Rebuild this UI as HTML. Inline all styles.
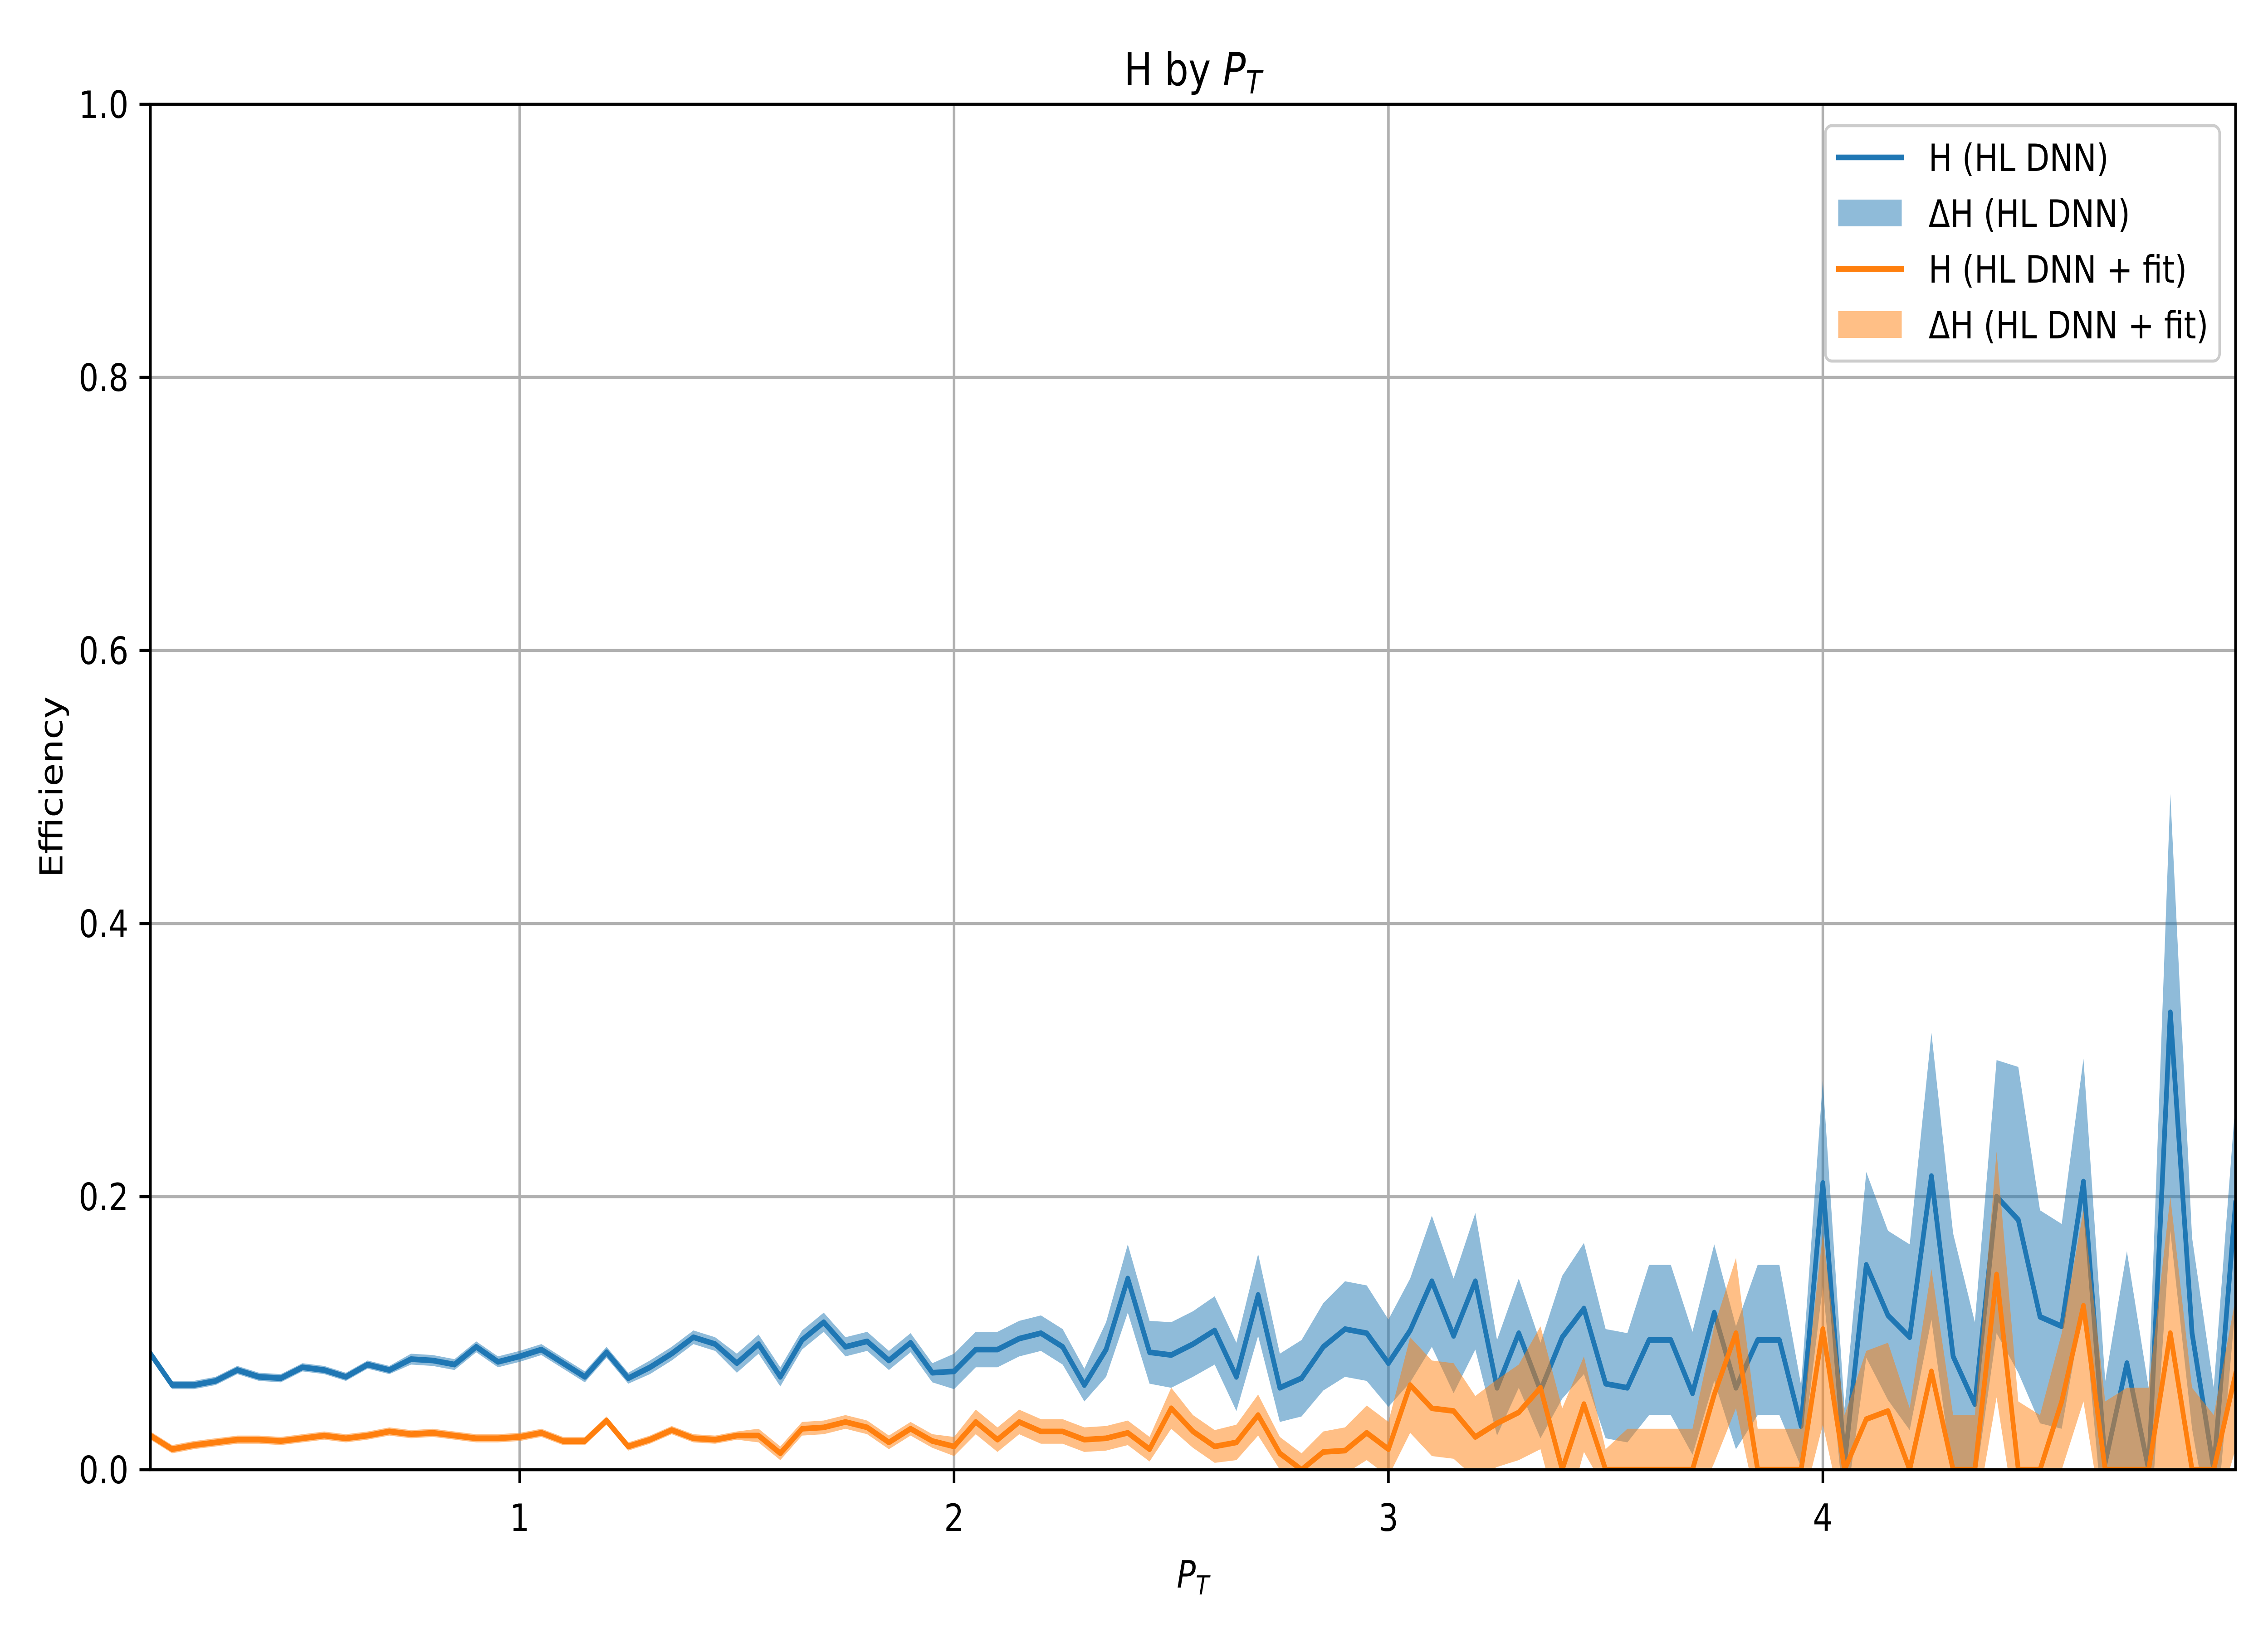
<!DOCTYPE html>
<html><head><meta charset="utf-8"><style>
html,body{margin:0;padding:0;background:#fff;width:100%;height:100%;overflow:hidden;}
svg{display:block;font-family:"DejaVu Sans","Liberation Sans",sans-serif;width:100vw;height:100vh;}
</style></head><body>
<svg id="chart" width="100%" height="100%" viewBox="0 0 6000 3600" preserveAspectRatio="none" xmlns="http://www.w3.org/2000/svg">
<rect width="6000" height="3600" fill="#fff"/>
<defs><clipPath id="plotclip"><rect x="398" y="230" width="5516" height="3010"/></clipPath></defs>
<g id="grid"></g>
<g id="series" clip-path="url(#plotclip)"></g>
<g id="axes"></g>
<text x="3156" y="188" font-size="100" text-anchor="middle">H by <tspan font-style="italic">P</tspan><tspan font-style="italic" font-size="70" dy="18">T</tspan></text>
<text x="3156" y="3500" font-size="83" text-anchor="middle"><tspan font-style="italic">P</tspan><tspan font-style="italic" font-size="58" dy="15">T</tspan></text>
<text x="0" y="0" font-size="83" text-anchor="middle" transform="translate(165,1735) rotate(-90)">Efficiency</text>
<g id="legend">
<rect x="4829" y="277" width="1043" height="519" rx="17" fill="#fff" fill-opacity="0.8" stroke="#cccccc" stroke-width="6.7"/>
<line x1="4857" y1="347" x2="5037" y2="347" stroke="#1f77b4" stroke-width="12.5"/>
<text x="5102" y="377" font-size="83">H (HL DNN)</text>
<rect x="4863" y="440" width="168" height="59" fill="#1f77b4" fill-opacity="0.5"/>
<text x="5102" y="500" font-size="83">ΔH (HL DNN)</text>
<line x1="4857" y1="593" x2="5037" y2="593" stroke="#ff7f0e" stroke-width="12.5"/>
<text x="5102" y="623" font-size="83">H (HL DNN + fit)</text>
<rect x="4863" y="686" width="168" height="59" fill="#ff7f0e" fill-opacity="0.5"/>
<text x="5102" y="746" font-size="83">ΔH (HL DNN + fit)</text>
</g>
</svg>
<script>
const blueVals=[0.085,0.062,0.062,0.065,0.073,0.068,0.067,0.075,0.073,0.068,0.077,0.073,0.081,0.080,0.077,0.090,0.079,0.083,0.088,0.078,0.068,0.086,0.067,0.075,0.085,0.097,0.092,0.078,0.092,0.068,0.095,0.108,0.090,0.094,0.080,0.093,0.071,0.072,0.088,0.088,0.096,0.100,0.090,0.062,0.088,0.140,0.086,0.084,0.092,0.102,0.068,0.128,0.060,0.067,0.090,0.103,0.100,0.078,0.102,0.138,0.098,0.138,0.060,0.100,0.058,0.097,0.118,0.063,0.060,0.095,0.095,0.056,0.115,0.060,0.095,0.095,0.032,0.210,0.005,0.150,0.113,0.097,0.215,0.083,0.048,0.200,0.183,0.112,0.105,0.211,0.005,0.078,0.000,0.335,0.100,0.000,0.195];
const blueErr=[0.003,0.003,0.003,0.003,0.003,0.003,0.003,0.003,0.003,0.003,0.003,0.003,0.004,0.004,0.004,0.004,0.004,0.004,0.004,0.004,0.004,0.004,0.004,0.005,0.005,0.005,0.005,0.007,0.007,0.007,0.007,0.007,0.007,0.007,0.007,0.007,0.007,0.013,0.013,0.013,0.013,0.013,0.013,0.012,0.020,0.025,0.023,0.024,0.024,0.025,0.025,0.030,0.025,0.028,0.032,0.035,0.035,0.032,0.038,0.048,0.042,0.050,0.035,0.040,0.035,0.045,0.048,0.040,0.040,0.055,0.055,0.045,0.050,0.045,0.055,0.055,0.030,0.075,0.040,0.068,0.062,0.068,0.105,0.090,0.060,0.100,0.112,0.078,0.075,0.090,0.060,0.082,0.060,0.160,0.070,0.060,0.075];
const orangeVals=[0.025,0.015,0.018,0.020,0.022,0.022,0.021,0.023,0.025,0.023,0.025,0.028,0.026,0.027,0.025,0.023,0.023,0.024,0.027,0.021,0.021,0.036,0.017,0.022,0.029,0.023,0.022,0.025,0.025,0.012,0.030,0.031,0.035,0.031,0.020,0.030,0.021,0.017,0.035,0.022,0.035,0.028,0.028,0.022,0.023,0.027,0.015,0.045,0.028,0.017,0.020,0.040,0.012,0.000,0.013,0.014,0.027,0.015,0.062,0.045,0.043,0.024,0.034,0.042,0.060,0.000,0.048,0.000,0.000,0.000,0.000,0.000,0.055,0.100,0.000,0.000,0.000,0.103,0.000,0.037,0.043,0.000,0.072,0.000,0.000,0.143,0.000,0.000,0.050,0.120,0.000,0.000,0.000,0.100,0.000,0.000,0.070];
const orangeErr=[0.003,0.003,0.003,0.003,0.003,0.003,0.003,0.003,0.003,0.003,0.003,0.003,0.003,0.003,0.003,0.003,0.003,0.003,0.003,0.003,0.003,0.003,0.003,0.003,0.003,0.003,0.003,0.003,0.005,0.005,0.005,0.005,0.005,0.005,0.005,0.005,0.005,0.007,0.009,0.009,0.009,0.009,0.009,0.009,0.009,0.009,0.009,0.015,0.012,0.012,0.013,0.015,0.012,0.012,0.015,0.017,0.020,0.020,0.035,0.035,0.035,0.030,0.032,0.035,0.045,0.045,0.035,0.015,0.030,0.030,0.030,0.030,0.050,0.055,0.030,0.030,0.030,0.070,0.040,0.050,0.050,0.045,0.075,0.040,0.040,0.090,0.050,0.040,0.050,0.070,0.050,0.060,0.060,0.100,0.060,0.040,0.055];
const xTicks=[1,2,3,4];
const xTickLabels=["1","2","3","4"];
const yTicks=[0,0.2,0.4,0.6,0.8,1.0];
const yTickLabels=["0.0","0.2","0.4","0.6","0.8","1.0"];
const xStart=0.15, xStep=0.05;

const L=398,R=5914,T=230,B=3240,XMIN=0.15,XMAX=4.95;
const sx=v=>L+(v-XMIN)/(XMAX-XMIN)*(R-L);
const sy=v=>B-v*(B-T);
const NS="http://www.w3.org/2000/svg";
function mk(tag,attrs,parent){const e=document.createElementNS(NS,tag);for(const k in attrs)e.setAttribute(k,attrs[k]);parent.appendChild(e);return e;}
const grid=document.getElementById('grid'),series=document.getElementById('series'),axes=document.getElementById('axes');
xTicks.forEach((t,i)=>{
  const g=mk('line',{x1:sx(t),x2:sx(t),y1:T,y2:B,stroke:'#b0b0b0','stroke-width':6.7},grid);
  
  
  const tk=mk('line',{x1:sx(t),x2:sx(t),y1:B,y2:B+29,stroke:'#000','stroke-width':6.7},axes);
  
  
  const tx=mk('text',{x:sx(t),y:B+135,'font-size':83,'text-anchor':'middle'},axes);
  tx.textContent=xTickLabels[i];
  
  
});
yTicks.forEach((t,i)=>{
  const g=mk('line',{x1:L,x2:R,y1:sy(t),y2:sy(t),stroke:'#b0b0b0','stroke-width':6.7},grid);
  
  
  const tk=mk('line',{x1:L-29,x2:L,y1:sy(t),y2:sy(t),stroke:'#000','stroke-width':6.7},axes);
  
  
  const tx=mk('text',{x:L-58,y:sy(t)+30,'font-size':83,'text-anchor':'end'},axes);
  tx.textContent=yTickLabels[i];
  
  
});
function xs(i){return xStart+i*xStep;}
function band(vals,err,color,name){
  let up=vals.map((v,i)=>sx(xs(i)).toFixed(1)+','+sy(v+err[i]).toFixed(1));
  let lo=vals.map((v,i)=>sx(xs(i)).toFixed(1)+','+sy(v-err[i]).toFixed(1)).reverse();
  const p=mk('polygon',{points:up.concat(lo).join(' '),fill:color,'fill-opacity':0.5},series);
  
  
}
function line(vals,color,name){
  const pts=vals.map((v,i)=>sx(xs(i)).toFixed(1)+','+sy(v).toFixed(1)).join(' ');
  const p=mk('polyline',{points:pts,fill:'none',stroke:color,'stroke-width':12.5,'stroke-linejoin':'round','stroke-linecap':'square'},series);
  
  
}
band(blueVals,blueErr,'#1f77b4','band-h-hl-dnn');
line(blueVals,'#1f77b4','line-h-hl-dnn');
band(orangeVals,orangeErr,'#ff7f0e','band-h-hl-dnn-fit');
line(orangeVals,'#ff7f0e','line-h-hl-dnn-fit');
const fr=mk('rect',{x:L,y:T,width:R-L,height:B-T,fill:'none',stroke:'#000','stroke-width':6.7},axes);


</script>
</body></html>
